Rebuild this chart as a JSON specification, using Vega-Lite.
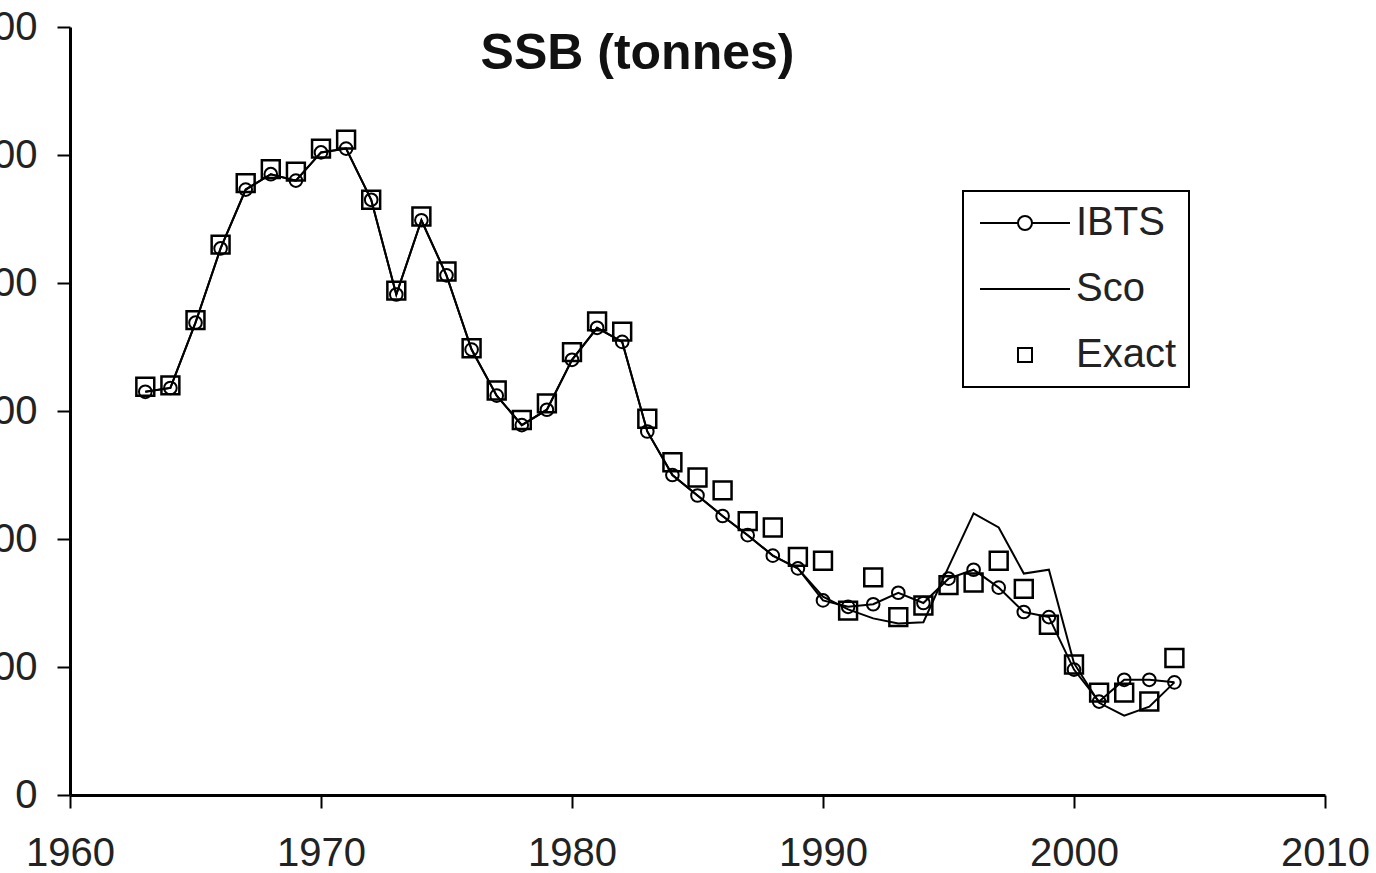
{
  "$schema": "https://vega.github.io/schema/vega-lite/v6.json",
  "autosize": {"type": "none"},
  "width": 1255,
  "height": 768,
  "padding": {"left": 70, "top": 27, "right": 51, "bottom": 78},
  "background": "white",
  "config": {
    "view": {"stroke": null},
    "legend": {"strokeWidth": 2},
    "axis": {
      "grid": false,
      "domainColor": "black",
      "domainWidth": 3,
      "tickColor": "black",
      "tickWidth": 2,
      "tickSize": 13,
      "labelFont": "Liberation Sans",
      "labelFontSize": 40,
      "labelColor": "#222222",
      "title": null
    }
  },
  "title": {
    "text": "SSB (tonnes)",
    "font": "Liberation Sans",
    "fontSize": 50,
    "fontWeight": "bold",
    "color": "#111111",
    "anchor": "middle",
    "frame": "group",
    "baseline": "alphabetic",
    "offset": 0,
    "dx": -60,
    "dy": 112
  },
  "data": {
    "values": [
      {"year": 1963, "IBTS": 315, "Sco": 315, "Exact": 319},
      {"year": 1964, "IBTS": 318, "Sco": 318, "Exact": 320},
      {"year": 1965, "IBTS": 369, "Sco": 369, "Exact": 371},
      {"year": 1966, "IBTS": 427, "Sco": 427, "Exact": 430},
      {"year": 1967, "IBTS": 473, "Sco": 473, "Exact": 478},
      {"year": 1968, "IBTS": 485, "Sco": 485, "Exact": 489},
      {"year": 1969, "IBTS": 480, "Sco": 480, "Exact": 487},
      {"year": 1970, "IBTS": 502, "Sco": 502, "Exact": 505},
      {"year": 1971, "IBTS": 505, "Sco": 505, "Exact": 512},
      {"year": 1972, "IBTS": 465, "Sco": 465, "Exact": 465},
      {"year": 1973, "IBTS": 391, "Sco": 391, "Exact": 394},
      {"year": 1974, "IBTS": 449, "Sco": 449, "Exact": 452},
      {"year": 1975, "IBTS": 406, "Sco": 406, "Exact": 409},
      {"year": 1976, "IBTS": 348, "Sco": 348, "Exact": 349},
      {"year": 1977, "IBTS": 312, "Sco": 312, "Exact": 316},
      {"year": 1978, "IBTS": 289, "Sco": 289, "Exact": 293},
      {"year": 1979, "IBTS": 301, "Sco": 301, "Exact": 306},
      {"year": 1980, "IBTS": 340, "Sco": 340, "Exact": 346},
      {"year": 1981, "IBTS": 365, "Sco": 365, "Exact": 370},
      {"year": 1982, "IBTS": 354, "Sco": 354, "Exact": 362},
      {"year": 1983, "IBTS": 284, "Sco": 284, "Exact": 294},
      {"year": 1984, "IBTS": 250, "Sco": 250, "Exact": 260},
      {"year": 1985, "IBTS": 234, "Sco": 234, "Exact": 248},
      {"year": 1986, "IBTS": 218, "Sco": 218, "Exact": 238},
      {"year": 1987, "IBTS": 203, "Sco": 203, "Exact": 214},
      {"year": 1988, "IBTS": 187, "Sco": 187, "Exact": 209},
      {"year": 1989, "IBTS": 177, "Sco": 177, "Exact": 186},
      {"year": 1990, "IBTS": 152, "Sco": 155, "Exact": 183},
      {"year": 1991, "IBTS": 147, "Sco": 145, "Exact": 144},
      {"year": 1992, "IBTS": 149, "Sco": 138, "Exact": 170},
      {"year": 1993, "IBTS": 158, "Sco": 134, "Exact": 139},
      {"year": 1994, "IBTS": 150, "Sco": 135, "Exact": 148},
      {"year": 1995, "IBTS": 169, "Sco": 178, "Exact": 164},
      {"year": 1996, "IBTS": 176, "Sco": 220, "Exact": 166},
      {"year": 1997, "IBTS": 162, "Sco": 209, "Exact": 183},
      {"year": 1998, "IBTS": 143, "Sco": 173, "Exact": 161},
      {"year": 1999, "IBTS": 139, "Sco": 176, "Exact": 133},
      {"year": 2000, "IBTS": 98, "Sco": 103, "Exact": 102},
      {"year": 2001, "IBTS": 73, "Sco": 72, "Exact": 80},
      {"year": 2002, "IBTS": 90, "Sco": 62, "Exact": 80},
      {"year": 2003, "IBTS": 90, "Sco": 69, "Exact": 73},
      {"year": 2004, "IBTS": 88, "Sco": 88, "Exact": 107}
    ]
  },
  "transform": [{"fold": ["IBTS", "Sco", "Exact"], "as": ["series", "ssb"]}],
  "encoding": {
    "x": {
      "field": "year",
      "type": "quantitative",
      "scale": {"domain": [1960, 2010], "nice": false, "zero": false},
      "axis": {"values": [1960, 1970, 1980, 1990, 2000, 2010], "format": "d", "labelPadding": 25, "labelFlush": false}
    },
    "y": {
      "field": "ssb",
      "type": "quantitative",
      "scale": {"domain": [0, 600], "nice": false},
      "axis": {"values": [0, 100, 200, 300, 400, 500, 600], "labelPadding": 20}
    }
  },
  "layer": [
    {
      "transform": [{"filter": "datum.series !== 'Exact'"}],
      "mark": {"type": "line", "color": "black", "strokeWidth": 2},
      "encoding": {"detail": {"field": "series", "type": "nominal"}}
    },
    {
      "transform": [{"filter": "datum.series === 'IBTS'"}],
      "mark": {"type": "point", "shape": "circle", "filled": false, "color": "black", "strokeWidth": 2, "size": 160, "opacity": 1}
    },
    {
      "transform": [{"filter": "datum.series === 'Exact'"}],
      "mark": {"type": "point", "shape": "square", "filled": false, "color": "black", "strokeWidth": 2.5, "size": 320, "opacity": 1}
    },
    {
      "mark": {"type": "point", "filled": false, "color": "black", "opacity": 0, "size": 10},
      "encoding": {
        "shape": {
          "field": "series",
          "type": "nominal",
          "scale": {
            "domain": ["IBTS", "Sco", "Exact"],
            "range": [
              "M-1,0H1.533M2.467,0H5M1.533,0A0.467,0.467,0,1,0,2.467,0A0.467,0.467,0,1,0,1.533,0Z",
              "M-1,0H5",
              "M1.533,-0.467H2.467V0.467H1.533Z"
            ]
          },
          "legend": {
            "title": null,
            "orient": "none",
            "legendX": 893,
            "legendY": 164,
            "strokeColor": "black",
            "fillColor": "white",
            "padding": 12,
            "symbolSize": 900,
            "symbolOpacity": 1,
            "symbolStrokeColor": "black",
            "symbolFillColor": "transparent",
            "symbolStrokeWidth": 2,
            "labelFont": "Liberation Sans",
            "labelFontSize": 40,
            "labelColor": "#222222",
            "labelOffset": 61,
            "rowPadding": 26
          }
        }
      }
    }
  ]
}
